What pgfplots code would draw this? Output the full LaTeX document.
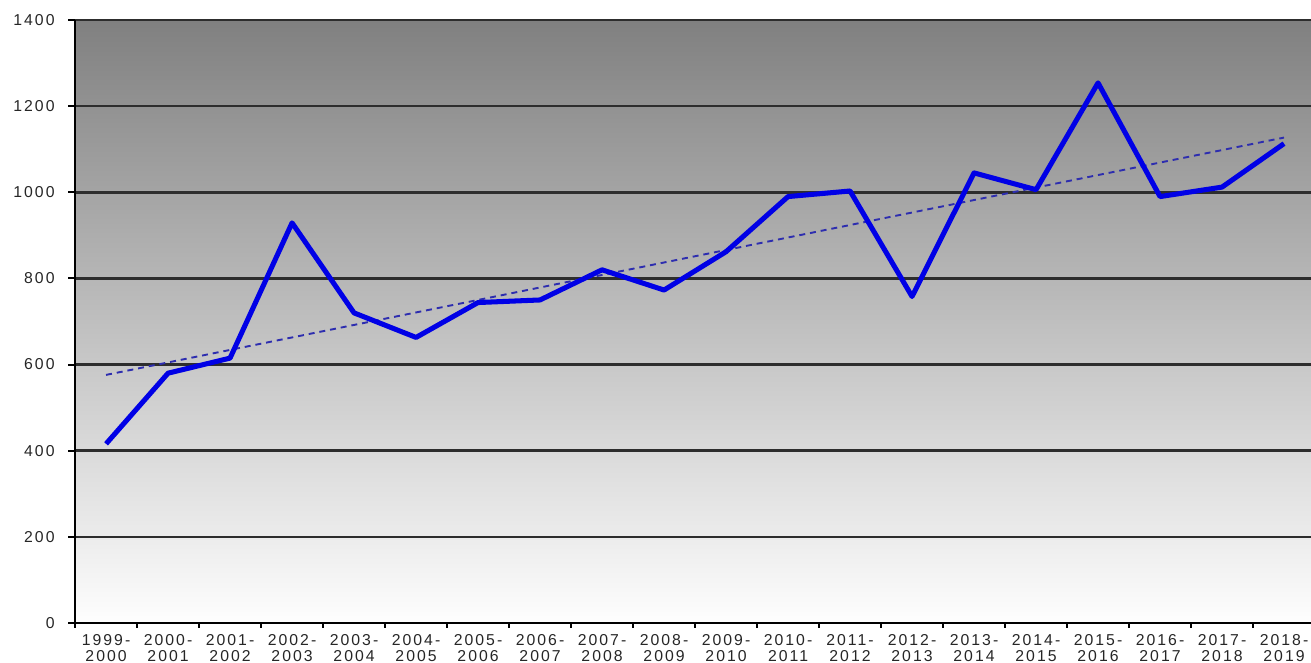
\documentclass[border=0pt]{standalone}
\usepackage{pgfplots}
\pgfplotsset{compat=1.18}
\usepackage{fontspec}
\setmainfont{Liberation Sans}
\newfontfamily\chartfont[LetterSpace=13]{Liberation Sans}
\usetikzlibrary{calc}

\definecolor{trendblue}{RGB}{45,45,175}
\definecolor{gridgray}{RGB}{45,45,45}

\begin{document}
\begin{tikzpicture}
\begin{axis}[
  scale only axis,
  width=454.4pt, height=221.7pt,
  xmin=-0.5, xmax=19.435,
  ymin=0, ymax=1400,
  axis x line*=bottom, axis y line*=left,
  axis line style={-, line width=0.75pt, black},
  axis background/.style={top color={rgb,255:red,128;green,128;blue,128}, bottom color={rgb,255:red,254;green,254;blue,254}},
  ytick={0,200,...,1400},
  ymajorgrids,
  major grid style={gridgray, line width=0.9pt},
  xtick={0,...,19},
  xticklabels={1999-\\2000,2000-\\2001,2001-\\2002,2002-\\2003,2003-\\2004,2004-\\2005,2005-\\2006,2006-\\2007,2007-\\2008,2008-\\2009,2009-\\2010,2010-\\2011,2011-\\2012,2012-\\2013,2013-\\2014,2014-\\2015,2015-\\2016,2016-\\2017,2017-\\2018,2018-\\2019},
  minor xtick={-0.5,0.5,...,18.5},
  major x tick style={draw=none},
  minor x tick style={black, line width=0.75pt},
  y tick style={black, line width=0.75pt},
  tick align=outside,
  major tick length=2.5pt,
  minor tick length=1.8pt,
  xtick pos=bottom, ytick pos=left,
  ticklabel style={font=\chartfont\fontsize{5.8}{6.1}\selectfont, text=black!85},
  xticklabel style={align=center, yshift=1.9pt},
  yticklabel style={xshift=-1.5pt},
  /pgf/number format/1000 sep={},
  /pgf/number format/assume math mode=true,
  clip=false,
]
% trend line (linear fit shown in the original chart)
\addplot[trendblue, line width=0.7pt, dash pattern=on 2.2pt off 1.8pt] coordinates {(0,576) (19,1127)};
\addplot[color={rgb,255:red,0;green,0;blue,230}, line width=1.85pt, line join=round] coordinates {
  (0,416) (1,580) (2,615) (3,929) (4,720) (5,663) (6,744) (7,750) (8,820) (9,773)
  (10,862) (11,990) (12,1003) (13,758) (14,1045) (15,1006) (16,1254) (17,990) (18,1012) (19,1113)
};
\end{axis}
\pgfresetboundingbox
\path ($(current axis.south west)+(-27.6pt,-14.7pt)$) rectangle ($(current axis.north east)+(0pt,7.35pt)$);
\end{tikzpicture}
\end{document}
